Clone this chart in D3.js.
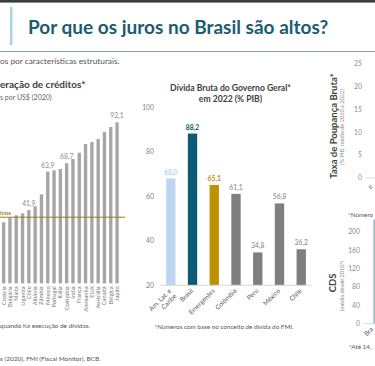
<!DOCTYPE html>
<html>
<head>
<meta charset="utf-8">
<script src="https://cdn.jsdelivr.net/npm/d3@7"></script>
<style>
  body { margin: 0; background: #fff; overflow: hidden; }
  svg { display: block; font-family: Lato, "Open Sans", sans-serif; }
</style>
</head>
<body>
<div id="main"></div>
<script>
const ctx = {
    w: 375,
    h: 366,
};

// Recuperação de créditos (centavos por US$, 2020)
const creditCountries = ["Croácia", "Bulgária", "Malta", "Uganda", "Chile", "Albânia", "Zâmbia", "México",
    "Portugal", "Itália", "Colômbia", "Índia", "França", "Alemanha", "EUA", "Austrália", "Canadá", "Bélgica", "Japão"];
const creditValues = [34.9, 37.5, 38.9, 40.0, 41.9, 44.1, 50.9, 63.9, 64.6, 65.4, 68.7, 71.1, 74.7, 79.7, 80.8, 82.6, 86.6, 89.4, 92.1];
const creditLabeled = ["Chile", "México", "Colômbia", "Japão"];
const creditRef = 37.8;

// Dívida bruta do governo geral, 2022 (% PIB)
const debtCats = ["Am. Lat. e Caribe", "Brasil", "Emergentes", "Colômbia", "Peru", "México", "Chile"];
const debtValues = [68.0, 88.2, 65.1, 61.1, 34.8, 56.8, 36.2];
const debtTicks = [20, 40, 60, 80, 100];

// Taxa de poupança bruta (% PIB) - só o eixo aparece no recorte
const savingsCats = ["Am. Lat. e"];
const savingsTicks = [0, 5, 10, 15, 20, 25];

// CDS (média desde 2010) - só a borda da primeira barra aparece
const cdsCats = ["Brasil"];
const cdsValues = [227];
const cdsTicks = [0, 40, 80, 120, 160, 200];

const fmt = d3.format(".1f");
const ptNum = v => fmt(v).replace(".", ",");

function drawHeader(svg) {
    svg.append("rect").attr("x", 0).attr("y", 0).attr("width", ctx.w).attr("height", 2.6).attr("fill", "#3d3d3d");
    svg.append("rect").attr("x", 10).attr("y", 7).attr("width", 2.4).attr("height", 38).attr("fill", "#a9d3df");
    svg.append("text")
       .attr("x", 28).attr("y", 34)
       .style("font-size", "19px").style("font-weight", "bold").style("fill", "#1b5c70")
       .text("Por que os juros no Brasil são altos?");
    svg.append("line")
       .attr("x1", 0).attr("x2", ctx.w).attr("y1", 51.5).attr("y2", 51.5)
       .attr("stroke", "#7ea3b0").attr("stroke-width", 1.2);
    // fragmento visível do subtítulo
    svg.append("text")
       .attr("x", 0).attr("y", 64)
       .style("font-size", "8.3px").style("fill", "#555")
       .text("os por características estruturais.");
}

function drawCredit(svg) {
    const baseY = 283.3;
    const xScale = d3.scaleBand()
                     .range([0.4, 120.3])
                     .paddingInner(0.47)
                     .paddingOuter(0.25)
                     .domain(creditCountries);
    const yScale = d3.scaleLinear()
                     .domain([0, 100])
                     .range([baseY, baseY - 174.8]);

    const g = svg.append("g");
    g.selectAll(".bar.credit")
     .data(creditCountries)
     .enter().append("rect")
     .attr("class", "bar credit")
     .attr("x", d => xScale(d))
     .attr("width", xScale.bandwidth())
     .attr("y", (d, i) => yScale(creditValues[i]))
     .attr("height", (d, i) => yScale(0) - yScale(creditValues[i]))
     .attr("fill", "#a6a6a6");

    g.selectAll(".val.credit")
     .data(creditCountries.filter(d => creditLabeled.includes(d)))
     .enter().append("text")
     .attr("class", "val credit")
     .attr("x", d => xScale(d) + xScale.bandwidth() / 2)
     .attr("y", d => yScale(creditValues[creditCountries.indexOf(d)]) - 4)
     .attr("text-anchor", "middle")
     .style("font-size", "6.8px").style("fill", "#8a8a8a")
     .text(d => ptNum(creditValues[creditCountries.indexOf(d)]));

    g.append("line")
     .attr("x1", 0).attr("x2", 125)
     .attr("y1", yScale(creditRef)).attr("y2", yScale(creditRef))
     .attr("stroke", "#9c7d1a").attr("stroke-width", 1);
    g.append("text")
     .attr("x", 0).attr("y", yScale(creditRef) - 1.8)
     .style("font-size", "6.2px").style("font-weight", "bold").style("fill", "#9c7d1a")
     .text("ivos");

    g.selectAll(".xlab.credit")
     .data(creditCountries)
     .enter().append("text")
     .attr("class", "xlab credit")
     .attr("transform", d => `translate(${xScale(d) + xScale.bandwidth() / 2},${baseY + 3}) rotate(-90)`)
     .attr("dy", "0.35em")
     .attr("text-anchor", "end")
     .style("font-size", "5.8px").style("fill", "#7a7a7a")
     .text(d => d);

    // títulos: só a parte visível no recorte
    svg.append("text")
       .attr("x", 0).attr("y", 88)
       .style("font-size", "10px").style("font-weight", "bold").style("fill", "#404040")
       .text("eração de créditos*");
    svg.append("text")
       .attr("x", 0).attr("y", 100)
       .style("font-size", "7px").style("fill", "#666")
       .text("s por US$ (2020)");
    svg.append("text")
       .attr("x", 0).attr("y", 328)
       .style("font-size", "6.5px").style("fill", "#555")
       .text("quando há execução de dívidas.");
    svg.append("text")
       .attr("x", 0).attr("y", 361)
       .style("font-size", "6.5px").style("fill", "#555")
       .text("s (2020), FMI (Fiscal Monitor), BCB.");
}

function drawDebt(svg) {
    const xScale = d3.scaleBand()
                     .range([160, 312])
                     .paddingInner(0.57)
                     .paddingOuter(0.28)
                     .domain(debtCats);
    const yScale = d3.scaleLinear()
                     .domain([20, 100])
                     .range([285.3, 107.3]);
    const colorScale = d3.scaleOrdinal()
                     .domain(debtCats)
                     .range(["#bdd7ee", "#0b5a76", "#bf9000", "#7f7f7f", "#7f7f7f", "#7f7f7f", "#7f7f7f"]);
    const labelColor = d3.scaleOrdinal()
                     .domain(debtCats)
                     .range(["#9dc3e6", "#0b5a76", "#bf9000", "#7f7f7f", "#7f7f7f", "#7f7f7f", "#7f7f7f"]);

    const g = svg.append("g");

    g.selectAll(".ytick.debt")
     .data(debtTicks)
     .enter().append("text")
     .attr("class", "ytick debt")
     .attr("x", 154).attr("y", d => yScale(d))
     .attr("dy", "0.35em").attr("text-anchor", "end")
     .style("font-size", "6.8px").style("fill", "#7f7f7f")
     .text(d => d);

    g.selectAll(".bar.debt")
     .data(debtCats)
     .enter().append("rect")
     .attr("class", "bar debt")
     .attr("x", d => xScale(d))
     .attr("width", xScale.bandwidth())
     .attr("y", (d, i) => yScale(debtValues[i]))
     .attr("height", (d, i) => yScale(20) - yScale(debtValues[i]))
     .attr("fill", d => colorScale(d));

    g.append("line")
     .attr("x1", 160).attr("x2", 312)
     .attr("y1", yScale(20)).attr("y2", yScale(20))
     .attr("stroke", "#d9d9d9").attr("stroke-width", 1);

    g.selectAll(".val.debt")
     .data(debtCats)
     .enter().append("text")
     .attr("class", "val debt")
     .attr("x", d => xScale(d) + xScale.bandwidth() / 2)
     .attr("y", (d, i) => yScale(debtValues[i]) - 4)
     .attr("text-anchor", "middle")
     .style("font-size", "6.8px")
     .style("font-weight", (d, i) => (i === 1 || i === 2) ? "bold" : "normal")
     .style("fill", d => labelColor(d))
     .text((d, i) => ptNum(debtValues[i]));

    const xl = g.selectAll(".xlab.debt")
     .data(debtCats)
     .enter().append("text")
     .attr("class", "xlab debt")
     .attr("transform", d => `translate(${xScale(d) + xScale.bandwidth() / 2 + 1},${yScale(20) + 6}) rotate(-45)`)
     .attr("text-anchor", "end")
     .style("font-size", "6.5px").style("fill", "#595959");
    xl.each(function(d) {
        const t = d3.select(this);
        if (d === "Am. Lat. e Caribe") {
            t.append("tspan").attr("x", 0).attr("dy", 0).text("Am. Lat. e");
            t.append("tspan").attr("x", 0).attr("dy", "1.15em").text("Caribe");
        } else {
            t.text(d);
        }
    });

    svg.append("text")
       .attr("x", 230.5).attr("y", 90.5).attr("text-anchor", "middle")
       .style("font-size", "8.6px").style("font-weight", "bold").style("fill", "#404040")
       .text("Dívida Bruta do Governo Geral*");
    svg.append("text")
       .attr("x", 230.5).attr("y", 101.5).attr("text-anchor", "middle")
       .style("font-size", "8.6px").style("font-weight", "bold").style("fill", "#404040")
       .text("em 2022 (% PIB)");
    svg.append("text")
       .attr("x", 224).attr("y", 329).attr("text-anchor", "middle")
       .style("font-size", "6.3px").style("fill", "#555")
       .text("*Números com base no conceito de dívida do FMI.");
}

function drawRight(svg) {
    // Poupança
    const ySav = d3.scaleLinear().domain([0, 25]).range([178, 63.3]);
    const xSav = d3.scaleBand().range([363, 383]).padding(0.5).domain(savingsCats);
    const g1 = svg.append("g");
    g1.selectAll(".ytick.sav")
      .data(savingsTicks)
      .enter().append("text")
      .attr("class", "ytick sav")
      .attr("x", 362).attr("y", d => ySav(d))
      .attr("dy", "0.35em").attr("text-anchor", "end")
      .style("font-size", "6.8px").style("fill", "#8c8c8c")
      .text(d => d);
    g1.append("line")
      .attr("x1", 366).attr("x2", ctx.w)
      .attr("y1", ySav(0)).attr("y2", ySav(0))
      .attr("stroke", "#d9d9d9");
    // só o fim do rótulo aparece
    g1.selectAll(".xlab.sav")
      .data(savingsCats)
      .enter().append("text")
      .attr("class", "xlab sav")
      .attr("transform", d => `translate(${xSav(d) + xSav.bandwidth() / 2},${ySav(0) + 9}) rotate(-45)`)
      .attr("text-anchor", "end")
      .style("font-size", "6.5px").style("fill", "#595959")
      .text("e");
    svg.append("text")
       .attr("transform", "translate(337,126) rotate(-90)")
       .attr("text-anchor", "middle")
       .style("font-size", "9.5px").style("font-weight", "bold").style("fill", "#404040")
       .text("Taxa de Poupança Bruta*");
    svg.append("text")
       .attr("transform", "translate(343.5,127) rotate(-90)")
       .attr("text-anchor", "middle")
       .style("font-size", "5.6px").style("fill", "#8c8c8c")
       .text("(% PIB, média de 2010 a 2022)");
    svg.append("text")
       .attr("x", 348).attr("y", 217)
       .style("font-size", "6.3px").style("fill", "#555")
       .text("*Número");

    // CDS
    const yCds = d3.scaleLinear().domain([0, 200]).range([323.7, 232]);
    const xCds = d3.scaleBand().range([371.5, 387.5]).padding(0.125).domain(cdsCats);
    const g2 = svg.append("g");
    g2.selectAll(".ytick.cds")
      .data(cdsTicks)
      .enter().append("text")
      .attr("class", "ytick cds")
      .attr("x", 360).attr("y", d => yCds(d))
      .attr("dy", "0.35em").attr("text-anchor", "end")
      .style("font-size", "6.8px").style("fill", "#8c8c8c")
      .text(d => d);
    g2.selectAll(".bar.cds")
      .data(cdsCats)
      .enter().append("rect")
      .attr("class", "bar cds")
      .attr("x", d => xCds(d))
      .attr("width", xCds.bandwidth())
      .attr("y", (d, i) => yCds(cdsValues[i]))
      .attr("height", (d, i) => yCds(0) - yCds(cdsValues[i]))
      .attr("fill", "#a9bfcb");
    g2.append("line")
      .attr("x1", 364).attr("x2", ctx.w)
      .attr("y1", yCds(0)).attr("y2", yCds(0))
      .attr("stroke", "#d9d9d9");
    g2.append("text")
      .attr("transform", `translate(${xCds.range()[0] + 2},${yCds(0) + 6}) rotate(-45)`)
      .attr("text-anchor", "end")
      .style("font-size", "6.5px").style("fill", "#595959")
      .text("Bra");
    svg.append("text")
       .attr("transform", "translate(336,283) rotate(-90)")
       .attr("text-anchor", "middle")
       .style("font-size", "9.5px").style("font-weight", "bold").style("fill", "#404040")
       .text("CDS");
    svg.append("text")
       .attr("transform", "translate(343.5,286) rotate(-90)")
       .attr("text-anchor", "middle")
       .style("font-size", "5.6px").style("fill", "#8c8c8c")
       .text("(média desde 2010*)");
    svg.append("text")
       .attr("x", 349).attr("y", 349)
       .style("font-size", "6.3px").style("fill", "#555")
       .text("*Até 14,");
}

function createViz() {
    const svg = d3.select("#main").append("svg")
      .attr("width", ctx.w)
      .attr("height", ctx.h);
    drawHeader(svg);
    drawCredit(svg);
    drawDebt(svg);
    drawRight(svg);
}

createViz();
</script>
</body>
</html>
